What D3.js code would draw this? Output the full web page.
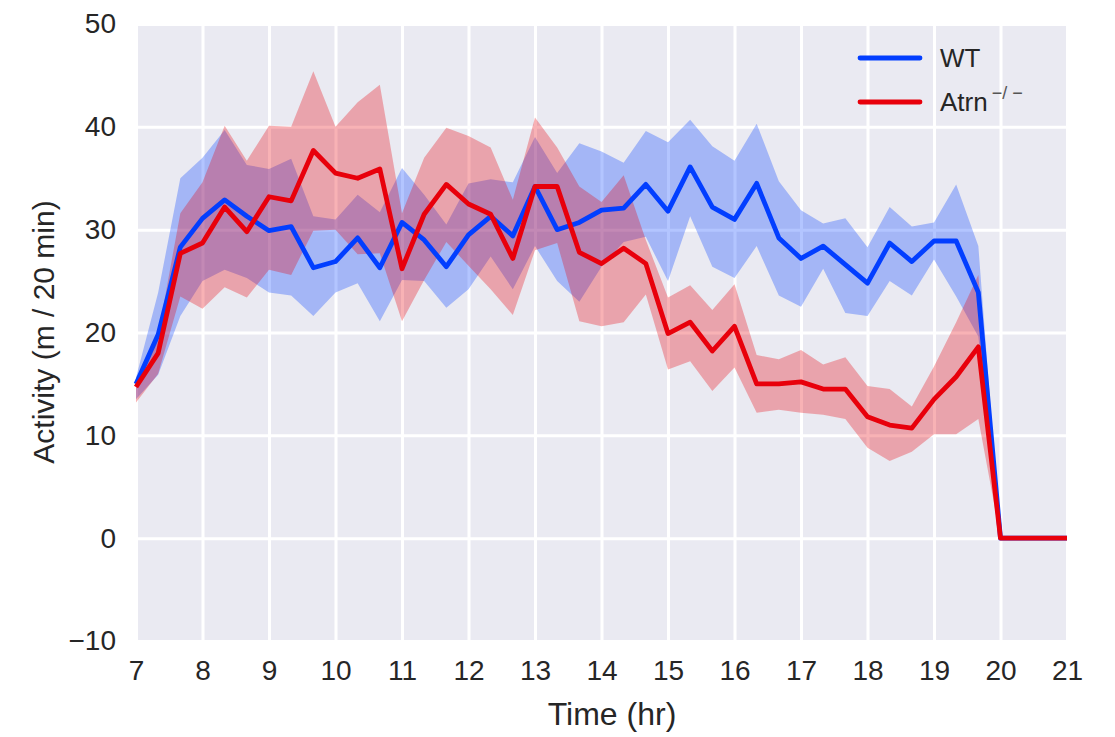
<!DOCTYPE html>
<html lang="en">
<head>
<meta charset="utf-8">
<title>Activity</title>
<script src="https://d3js.org/d3.v7.min.js"></script>
<style>
body { margin: 0; background: #fff; }
text { font-family: "Liberation Sans", Arial, sans-serif; fill: #262626; }
.grid line { stroke: #fff; stroke-width: 3; }
.grid path { display: none; }
.axis path, .axis line { display: none; }
.axis text { font-size: 28px; }
</style>
</head>
<body>
<div id="chart"></div>
<script>
// time points every 20 min
var times = d3.range(43).map(function(i) { return 7 + i / 3; });

var wtMean = [15.0, 19.8, 28.3, 31.1, 32.9, 31.3, 29.9, 30.3, 26.3, 26.9, 29.2, 26.3, 30.7, 29.0, 26.4,
  29.5, 31.3, 29.4, 34.2, 30.0, 30.7, 31.9, 32.1, 34.4, 31.8, 36.1, 32.2, 31.0, 34.5, 29.2,
  27.2, 28.4, 26.6, 24.8, 28.7, 26.9, 28.9, 28.9, 23.9, 0, 0, 0, 0];
var wtLow = [13.5, 15.9, 21.6, 25.0, 26.1, 25.3, 23.9, 23.6, 21.6, 23.9, 24.8, 21.1, 25.1, 25.0, 22.4,
  24.2, 27.4, 24.2, 28.4, 25.0, 23.0, 26.4, 28.8, 29.3, 25.0, 31.3, 26.4, 25.3, 28.4, 23.6,
  22.5, 26.2, 21.9, 21.6, 25.0, 23.6, 27.1, 23.5, 19.6, 0, 0, 0, 0];
var wtHigh = [15.6, 23.9, 35.0, 37.0, 39.7, 36.3, 35.9, 36.9, 31.3, 31.0, 33.4, 31.7, 36.0, 33.4, 30.5,
  34.5, 34.9, 34.6, 39.0, 35.5, 38.4, 37.6, 36.5, 39.6, 38.5, 40.7, 38.1, 36.7, 40.3, 34.7,
  31.9, 30.6, 31.1, 28.3, 32.2, 30.3, 30.7, 34.4, 28.4, 0, 0, 0, 0];

var koMean = [14.7, 18.0, 27.7, 28.7, 32.2, 29.8, 33.2, 32.8, 37.7, 35.5, 35.0, 35.9, 26.2, 31.5, 34.4,
  32.5, 31.5, 27.2, 34.2, 34.2, 27.8, 26.7, 28.2, 26.7, 19.9, 21.0, 18.2, 20.6, 15.0, 15.0,
  15.2, 14.5, 14.5, 11.8, 11.0, 10.7, 13.5, 15.7, 18.6, 0, 0, 0, 0];
var koLow = [13.2, 16.0, 23.5, 22.3, 24.4, 23.4, 26.1, 25.6, 29.9, 30.0, 27.6, 27.7, 21.1, 25.1, 28.8,
  26.5, 24.2, 21.7, 28.0, 28.7, 21.1, 20.6, 21.0, 23.7, 16.4, 17.2, 14.3, 16.6, 12.2, 12.5,
  12.2, 12.0, 11.6, 8.8, 7.5, 8.4, 10.1, 10.1, 11.6, 0, 0, 0, 0];
var koHigh = [15.0, 19.8, 31.6, 34.6, 40.1, 36.7, 40.1, 40.0, 45.4, 40.0, 42.4, 44.1, 31.6, 37.0, 39.9,
  39.1, 38.0, 32.9, 40.9, 38.0, 34.2, 32.7, 35.3, 29.0, 23.4, 24.6, 22.2, 24.7, 17.8, 17.4,
  18.3, 16.9, 17.6, 14.8, 14.5, 12.8, 16.7, 21.0, 25.6, 0, 0, 0, 0];

var xTicks = d3.range(7, 22, 1);
var yTicks = [-10, 0, 10, 20, 30, 40, 50];

var width = 1115, height = 737;
var margin = {left: 136, top: 24, right: 48, bottom: 96};
var w = width - margin.left - margin.right;
var h = height - margin.top - margin.bottom;

var svg = d3.select("#chart").append("svg")
  .attr("width", width)
  .attr("height", height);

var g = svg.append("g")
  .attr("transform", "translate(" + margin.left + "," + margin.top + ")");

var x = d3.scaleLinear().domain([7, 21]).range([0, w]);
var y = d3.scaleLinear().domain([-10, 50]).range([h, 0]);

g.append("rect")
  .attr("width", w)
  .attr("height", h)
  .attr("fill", "#eaeaf2");

// grid
g.append("g").attr("class", "grid")
  .attr("transform", "translate(0," + h + ")")
  .call(d3.axisBottom(x).tickValues(xTicks).tickSize(-h).tickFormat(""));
g.append("g").attr("class", "grid")
  .call(d3.axisLeft(y).tickValues(yTicks).tickSize(-w).tickFormat(""));

var series = [
  {name: "WT", color: "#023eff", mean: wtMean, low: wtLow, high: wtHigh},
  {name: "Atrn", color: "#e8000b", mean: koMean, low: koLow, high: koHigh}
];

var area = d3.area()
  .x(function(d) { return x(d.t); })
  .y0(function(d) { return y(d.lo); })
  .y1(function(d) { return y(d.hi); });

var line = d3.line()
  .x(function(d) { return x(d.t); })
  .y(function(d) { return y(d.m); });

series.forEach(function(s) {
  s.pts = times.map(function(t, i) { return {t: t, m: s.mean[i], lo: s.low[i], hi: s.high[i]}; });
  g.append("path")
    .datum(s.pts)
    .attr("d", area)
    .attr("fill", s.color)
    .attr("fill-opacity", 0.3);
});

series.forEach(function(s) {
  g.append("path")
    .datum(s.pts)
    .attr("d", line)
    .attr("fill", "none")
    .attr("stroke", s.color)
    .attr("stroke-width", 4.8)
    .attr("stroke-linejoin", "round");
});

// axes labels
g.append("g").attr("class", "axis")
  .attr("transform", "translate(0," + h + ")")
  .call(d3.axisBottom(x).tickValues(xTicks).tickSize(0).tickPadding(19).tickFormat(d3.format("d")))
  .selectAll("text").attr("dy", "0.71em");

g.append("g").attr("class", "axis")
  .call(d3.axisLeft(y).tickValues(yTicks).tickSize(0).tickPadding(20)
    .tickFormat(function(d) { return d < 0 ? "\u2212" + Math.abs(d) : d; }));

svg.append("text")
  .attr("x", 612)
  .attr("y", 725)
  .attr("text-anchor", "middle")
  .attr("font-size", "32px")
  .text("Time (hr)");

svg.append("text")
  .attr("transform", "translate(54,332) rotate(-90)")
  .attr("text-anchor", "middle")
  .attr("font-size", "30px")
  .text("Activity (m / 20 min)");

// legend
var leg = svg.append("g").attr("transform", "translate(860,58)");
series.forEach(function(s, i) {
  var row = leg.append("g").attr("transform", "translate(0," + (i * 44) + ")");
  row.append("line")
    .attr("x1", 0).attr("x2", 60)
    .attr("stroke", s.color)
    .attr("stroke-width", 4.8)
    .attr("stroke-linecap", "round");
  var t = row.append("text")
    .attr("x", 80)
    .attr("y", 9)
    .attr("font-size", "26px")
    .text(s.name);
  if (s.name === "Atrn") {
    t.append("tspan")
      .attr("dx", 4)
      .attr("dy", -12)
      .attr("font-size", "18px")
      .attr("fill", "#555")
      .text("\u2212/ \u2212");
  }
});
</script>
</body>
</html>
